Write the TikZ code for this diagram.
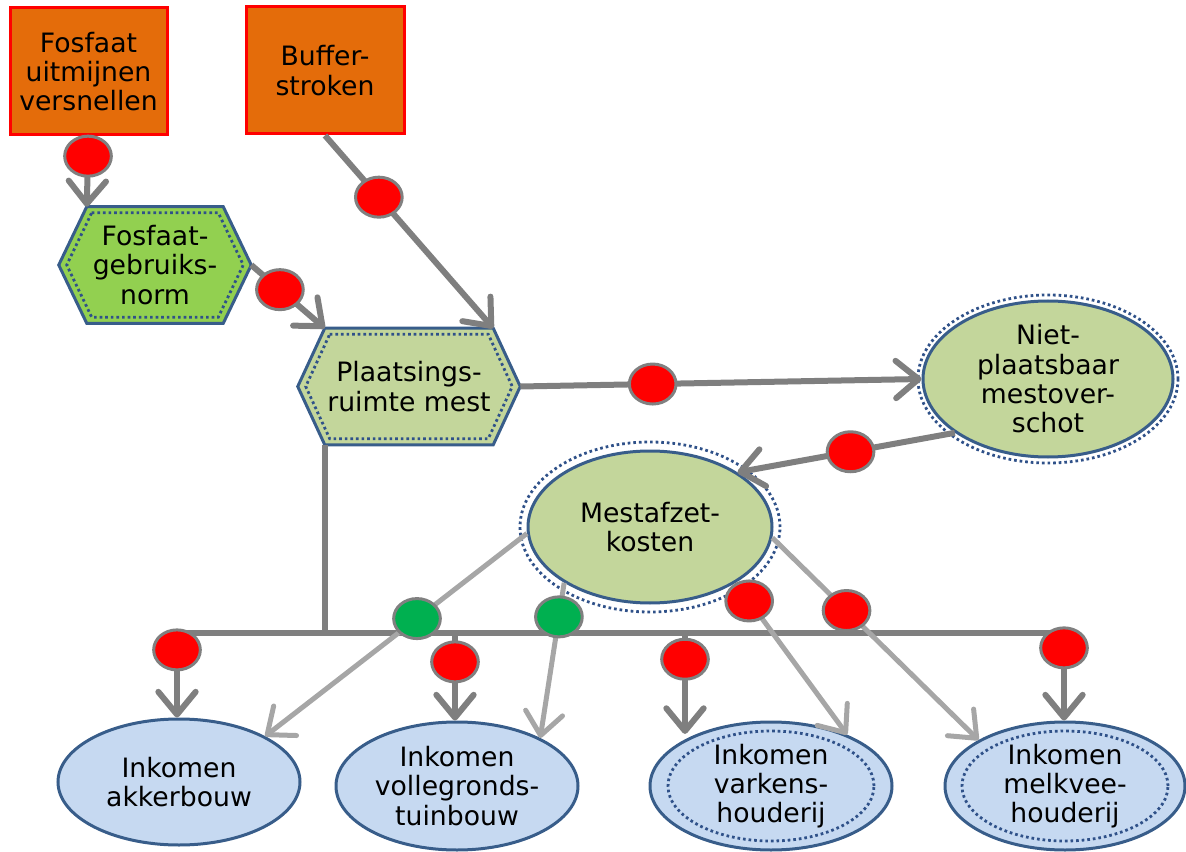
\documentclass[tikz,border=0pt]{standalone}
\usepackage{fontspec}
\setmainfont{DejaVu Sans}
\usetikzlibrary{shapes.geometric,arrows.meta,calc,backgrounds}
\definecolor{orng}{HTML}{E46C0A}
\definecolor{hexgA}{HTML}{92D050}
\definecolor{hexgB}{HTML}{C3D69B}
\definecolor{bluef}{HTML}{C6D9F1}
\definecolor{bord}{HTML}{385D8A}
\definecolor{dotc}{HTML}{2F5189}
\definecolor{dgray}{HTML}{7F7F7F}
\definecolor{lgray}{HTML}{A6A6A6}
\definecolor{mgray}{HTML}{808080}
\definecolor{grn}{HTML}{00B050}
\begin{document}
\begin{tikzpicture}[x=0.75pt,y=-0.75pt,
  txt/.style={font=\fontsize{20pt}{22pt}\selectfont, align=center, text=black, inner sep=0pt},
  cause/.style={txt, rectangle, draw=red, fill=orng, line width=2.25pt},
  hexn/.style={txt, rectangle, minimum height=87pt},
  hexline/.style={draw=bord, line width=2.25pt, line join=miter},
  dotline/.style={draw=dotc, line width=2.1pt, dash pattern=on 2pt off 2.2pt},
  ell/.style={txt, ellipse, draw=bord, line width=2.25pt},
  dark/.style={draw=dgray, line width=4.5pt},
  light/.style={draw=lgray, line width=3.75pt},
  tip/.style={-{Straight Barb[length=17pt,width=28pt,round]}},
  redm/.style={ellipse, draw=mgray, line width=2.25pt, fill=red, minimum width=35pt, minimum height=30pt, inner sep=0pt},
  greenm/.style={redm, fill=grn},
]
\useasboundingbox (0,0) rectangle (1186,852);

% top causes
\node[cause, minimum width=117.75pt, minimum height=95.25pt] (b1) at (88.5,71.5) {Fosfaat\\uitmijnen\\versnellen};
\node[cause, minimum width=118.5pt, minimum height=95.25pt] (b2) at (325,70.5) {Buffer-\\stroken};

% hexagons
\node[hexn, minimum width=144pt] (h1) at (155,265) {Fosfaat-\\gebruiks-\\norm};
\node[hexn, minimum width=166.5pt] (h2) at (409,386.5) {Plaatsings-\\ruimte mest};
\begin{scope}[on background layer]
  \draw[hexline, fill=hexgA] ($(h1.north west)+(28,0)$) -- ($(h1.north east)+(-28,0)$) -- (h1.east)
     -- ($(h1.south east)+(-28,0)$) -- ($(h1.south west)+(28,0)$) -- (h1.west) -- cycle;
  \draw[dotline] ($(h1.north west)+(33,6)$) -- ($(h1.north east)+(-33,6)$) -- ($(h1.east)+(-8,0)$)
     -- ($(h1.south east)+(-33,-6)$) -- ($(h1.south west)+(33,-6)$) -- ($(h1.west)+(8,0)$) -- cycle;
  \draw[hexline, fill=hexgB] ($(h2.north west)+(27,0)$) -- ($(h2.north east)+(-27,0)$) -- (h2.east)
     -- ($(h2.south east)+(-27,0)$) -- ($(h2.south west)+(27,0)$) -- (h2.west) -- cycle;
  \draw[dotline] ($(h2.north west)+(32,6)$) -- ($(h2.north east)+(-32,6)$) -- ($(h2.east)+(-8,0)$)
     -- ($(h2.south east)+(-32,-6)$) -- ($(h2.south west)+(32,-6)$) -- ($(h2.west)+(8,0)$) -- cycle;
\end{scope}
\coordinate (h1tl) at ($(h1.north west)+(28,0)$);
\coordinate (h2tl) at ($(h2.north west)+(27,0)$);
\coordinate (h2tr) at ($(h2.north east)+(-27,0)$);
\coordinate (h2bl) at ($(h2.south west)+(27,0)$);

% ellipses
\node[ell, fill=hexgB, minimum width=187.5pt, minimum height=117pt] (niet) at (1048,379) {Niet-\\plaatsbaar\\mestover-\\schot};
\draw[dotline] (niet.center) ellipse [x radius=97.5pt, y radius=63pt];
\node[ell, fill=hexgB, minimum width=183pt, minimum height=114pt] (mest) at (650,527) {Mestafzet-\\kosten};
\draw[dotline] (mest.center) ellipse [x radius=97.5pt, y radius=63.75pt];

\node[ell, fill=bluef, minimum width=181.5pt, minimum height=94.5pt] (akk) at (179,782) {Inkomen\\akkerbouw};
\node[ell, fill=bluef, minimum width=181.5pt, minimum height=96pt] (vol) at (457,786) {Inkomen\\vollegronds-\\tuinbouw};
\node[ell, fill=bluef, minimum width=181.5pt, minimum height=96pt] (var) at (771,786) {Inkomen\\varkens-\\houderij};
\draw[dotline] (var.center) ellipse [x radius=77.25pt, y radius=41.25pt];
\node[ell, fill=bluef, minimum width=180pt, minimum height=96pt] (melk) at (1065,786) {Inkomen\\melkvee-\\houderij};
\draw[dotline] (melk.center) ellipse [x radius=77.25pt, y radius=41.25pt];

% upper connectors
\draw[dark, tip] (b1.south) -- node[redm, pos=0.28] (m1) {} (h1tl);
\draw[dark, tip] (h1.east) -- node[redm, pos=0.39] (m2) {} (h2tl);
\draw[dark, tip] (b2.south) -- node[redm, pos=0.32] (m3) {} (h2tr);
\draw[dark, tip] (h2.east) -- node[redm, pos=0.33] (m4) {} (niet.west);
\draw[dark, tip] (niet.210) -- node[redm, pos=0.48] (m5) {} (mest.32);

% bus
\coordinate (busL) at (176,633);
\coordinate (busR) at (1064,633);
\coordinate (t1) at (177,633);
\coordinate (t2) at (455,633);
\coordinate (t3) at (685,633);
\coordinate (t4) at (1064,633);
\draw[dark] (h2bl) -- (h2bl |- busL);
\draw[dark] (busL) -- (busR);
\draw[dark, tip] (t1) -- node[redm, pos=0.2] (d1) {} (t1 |- akk.north);
\draw[dark, tip] (t2) -- node[redm, pos=0.33] (d2) {} (t2 |- vol.north);
\draw[dark, tip] (t3) -- node[redm, pos=0.26] (d3) {} (t3 |- var.145);
\draw[dark, tip] (t4) -- node[redm, pos=0.17] (d4) {} (t4 |- melk.north);

% light connectors from Mestafzetkosten
\draw[light, tip] (mest.183) -- node[greenm, pos=0.42] (g1) {} (akk.28);
\draw[light, tip] (mest.213) -- node[greenm, pos=0.22] (g2) {} (vol.30);
\draw[light, tip] (mest.327) -- node[redm, pos=0.12] (r1) {} (var.34);
\draw[light, tip] (mest.355) -- node[redm, pos=0.36] (r2) {} (melk.152);
\end{tikzpicture}
\end{document}
